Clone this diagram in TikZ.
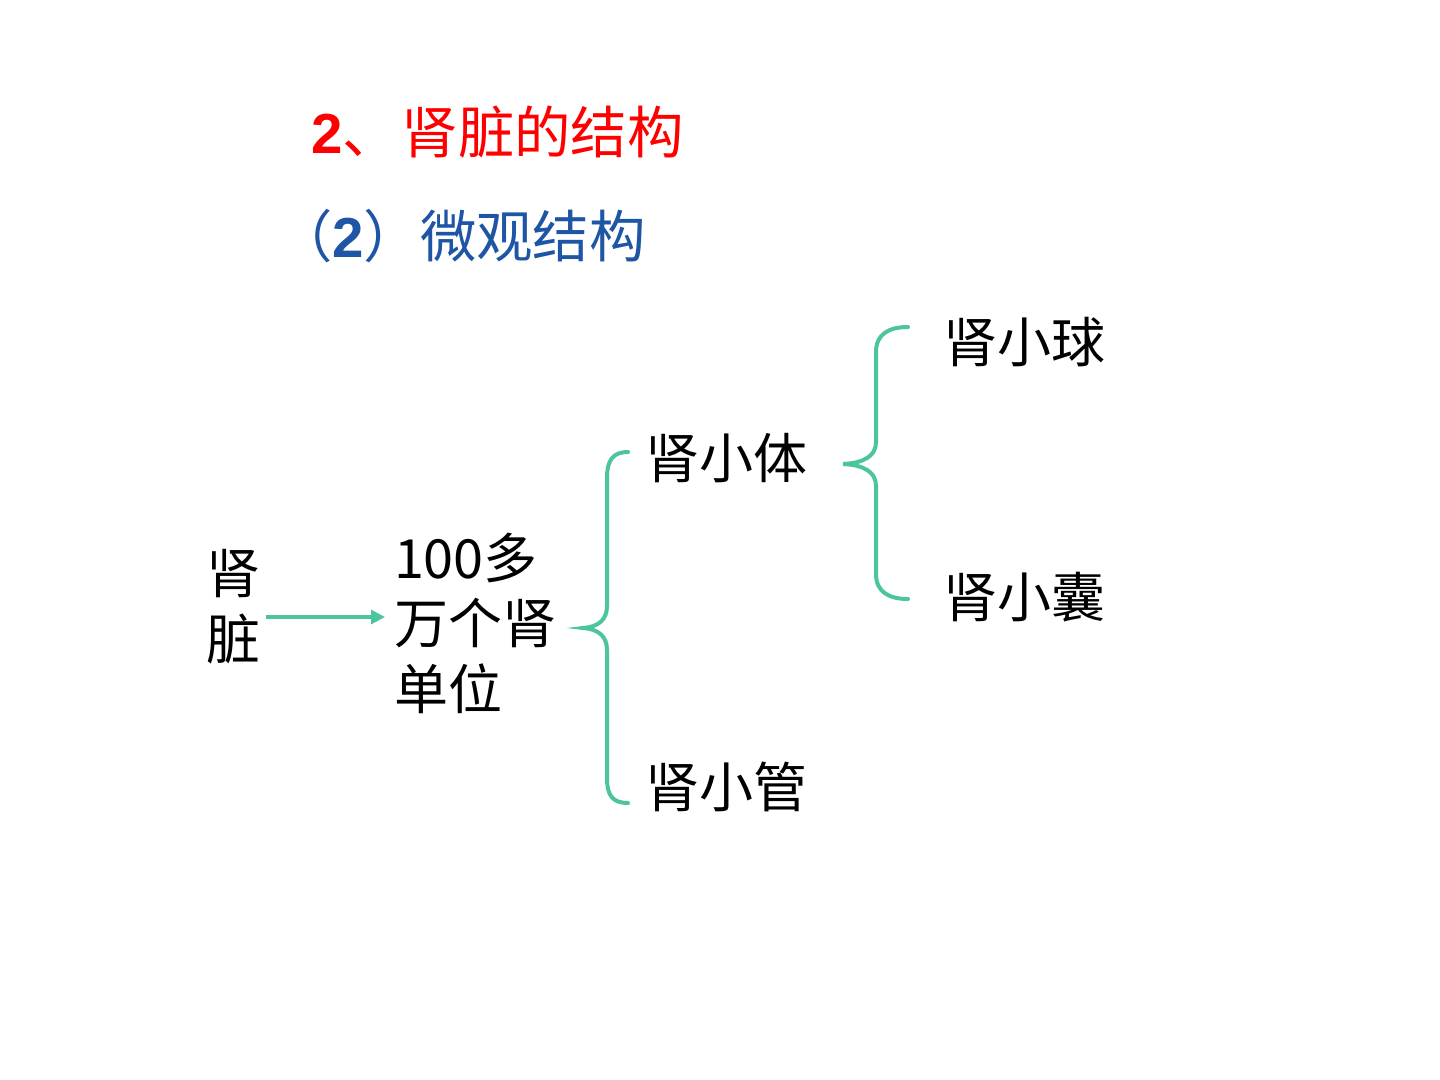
\documentclass[tikz,border=0pt]{standalone}
\usepackage{fontspec}
\newfontfamily\cjk{Noto Sans CJK SC}
\newfontfamily\latinb{Liberation Sans}
\usetikzlibrary{arrows.meta}
\definecolor{tealc}{RGB}{77,196,160}
\definecolor{redc}{RGB}{255,0,0}
\definecolor{bluec}{RGB}{30,85,165}
\tikzset{
  txt/.style={inner sep=0pt, outer sep=0pt, anchor=base west, font=\cjk\fontsize{27}{32.5}\selectfont},
  head/.style={txt, font=\cjk\fontsize{28.2}{34}\selectfont},
  brace/.style={draw=tealc, line width=2pt, line cap=round},
  arr/.style={draw=tealc, line width=1.6pt, -{Triangle[length=7pt,width=7pt]}}
}
\begin{document}
\begin{tikzpicture}[x=0.5pt,y=-0.5pt]
\useasboundingbox (0,0) rectangle (1440,1080);
\fill[white] (0,0) rectangle (1440,1080);
% titles
\node[head, text=redc] (title) at (311,154) {{\latinb\bfseries 2}、\hspace{1.5pt}肾脏的结构};
\node[head, text=bluec] (sub) at (276,258) {（{\latinb\bfseries 2}）微观结构};
% left
\node[txt] (kid1) at (206,593) {肾};
\node[txt] (kid2) at (206,659) {脏};
\coordinate (kidR) at (266,617);
\node[txt] (n1) at (394,578) {100多};
\node[txt] (n2) at (394,643) {万个肾};
\node[txt] (n3) at (394,709) {单位};
\coordinate (nL) at (385,617);
\draw[arr] (kidR) -- (nL);
% second level
\node[txt] (xt) at (645,479) {肾小体};
\node[txt] (xg) at (645,807) {肾小管};
\node[txt] (xq) at (943,363) {肾小球};
\node[txt] (xn) at (943,617) {肾小囊};
% brace 1
\draw[brace] (628,452) .. controls (613,452) and (607,460) .. (607,478)
  -- (607,606) .. controls (607,620) and (598,627) .. (583,628)
  .. controls (598,629) and (607,636) .. (607,650)
  -- (607,778) .. controls (607,796) and (613,803) .. (628,803);
% brace 2
\draw[brace] (908,327) .. controls (889,327) and (876,334) .. (876,352)
  -- (876,442) .. controls (876,456) and (864,463) .. (843,464)
  .. controls (864,465) and (876,472) .. (876,486)
  -- (876,574) .. controls (876,592) and (889,599) .. (908,599);
\end{tikzpicture}
\end{document}
